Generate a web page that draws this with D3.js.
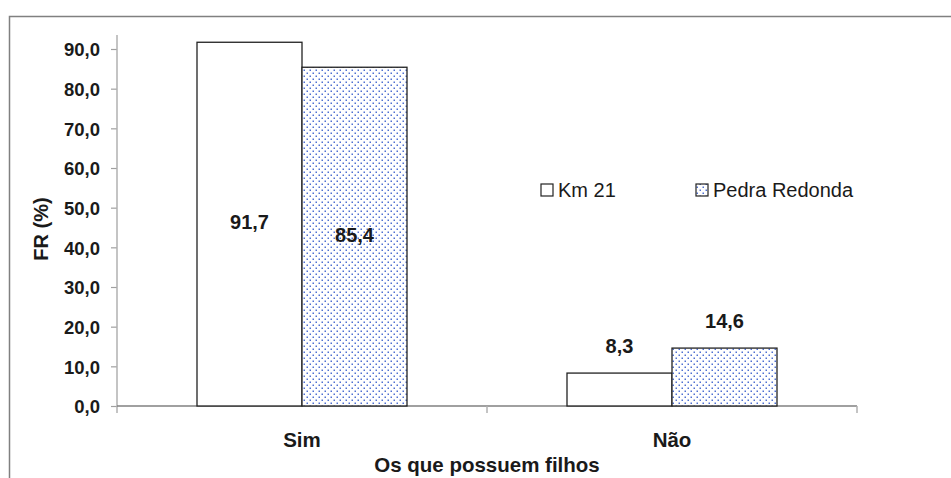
<!DOCTYPE html>
<html><head><meta charset="utf-8">
<script src="https://cdn.jsdelivr.net/npm/d3@7"></script>
<style>body{margin:0;background:#fff}svg{display:block;font-family:"Liberation Sans",Arial,sans-serif}</style>
</head><body>
<script>
const categories = ["Sim", "Não"];
const seriesNames = ["Km 21", "Pedra Redonda"];
const km21 = [91.7, 8.3];
const pedraRedonda = [85.4, 14.6];
const yTicks = [0, 10, 20, 30, 40, 50, 60, 70, 80, 90];
const yTitle = "FR (%)";
const xTitle = "Os que possuem filhos";

const W = 951, H = 478;
const FF = '"Liberation Sans", Arial, sans-serif';
const svg = d3.select("body").append("svg").attr("width", W).attr("height", H);
const defs = svg.append("defs");
const pat = defs.append("pattern").attr("id", "dots").attr("patternUnits", "userSpaceOnUse")
  .attr("width", 6).attr("height", 6);
pat.append("rect").attr("width", 6).attr("height", 6).attr("fill", "#fff");
pat.append("rect").attr("x", 0.5).attr("y", 0.5).attr("width", 1.5).attr("height", 1.5).attr("fill", "#4f70d2");
pat.append("rect").attr("x", 3.5).attr("y", 3.5).attr("width", 1.5).attr("height", 1.5).attr("fill", "#4f70d2");

// outer frame
svg.append("rect").attr("x", 9.5).attr("y", 16.5).attr("width", 1000).attr("height", 600)
  .attr("fill", "none").attr("stroke", "#808080").attr("stroke-width", 1.5);

const left = 117, right = 857, y0 = 406;
const y = d3.scaleLinear().domain([0, 90]).range([y0, 49]);
const x = d3.scaleBand().domain(categories).range([left, right]).paddingInner(0).paddingOuter(0);
const xs = d3.scaleBand().domain(seriesNames).range([0, 210]);
const groupOff = (x.bandwidth() - 210) / 2;

function txt(sel, size, bold) {
  return sel.style("font-family", FF).style("font-size", size + "px")
    .style("font-weight", bold ? "bold" : "normal").attr("fill", "#1a1a1a");
}

// y axis
const yAxis = svg.append("g").attr("transform", `translate(${left},0)`)
  .call(d3.axisLeft(y).tickValues(yTicks).tickSize(6).tickPadding(11).tickFormat(d => d.toFixed(1).replace(".", ",")));
yAxis.select(".domain").remove();
yAxis.selectAll(".tick line").attr("stroke", "#a0a0a0").attr("stroke-width", 1.2);
txt(yAxis.selectAll("text"), 18.5, true).attr("dy", "0.36em");
svg.append("line").attr("x1", left).attr("x2", left).attr("y1", 35).attr("y2", y0 + 7)
  .attr("stroke", "#b0b0b0").attr("stroke-width", 1.5);

// x axis
svg.append("line").attr("x1", left).attr("x2", right).attr("y1", y0).attr("y2", y0)
  .attr("stroke", "#808080").attr("stroke-width", 1.5);
[left + x.bandwidth(), right].forEach(v => {
  svg.append("line").attr("x1", v).attr("x2", v).attr("y1", y0).attr("y2", y0 + 7)
    .attr("stroke", "#b0b0b0").attr("stroke-width", 1.5);
});

// bars
const seriesData = [km21, pedraRedonda];
seriesData.forEach((vals, si) => {
  svg.append("g").selectAll("rect").data(categories).join("rect")
    .attr("x", c => x(c) + groupOff + xs(seriesNames[si]))
    .attr("y", (c, i) => y(vals[i]))
    .attr("width", xs.bandwidth())
    .attr("height", (c, i) => y0 - y(vals[i]))
    .attr("fill", si === 0 ? "#fff" : "url(#dots)")
    .attr("stroke", "#222").attr("stroke-width", 1.3);
});

// value labels
seriesData.forEach((vals, si) => {
  txt(svg.append("g").selectAll("text").data(categories).join("text")
    .attr("x", c => x(c) + groupOff + xs(seriesNames[si]) + xs.bandwidth() / 2)
    .attr("y", (c, i) => vals[i] > 50 ? (y(vals[i]) + y0) / 2 + 5 : y(vals[i]) - 20)
    .attr("text-anchor", "middle"), 20, true)
    .text((c, i) => vals[i].toFixed(1).replace(".", ","));
});

// category labels
txt(svg.append("g").selectAll("text").data(categories).join("text")
  .attr("x", c => x(c) + x.bandwidth() / 2).attr("y", 447)
  .attr("text-anchor", "middle"), 20.5, true)
  .text(d => d);

// titles
txt(svg.append("text").attr("x", left + (right - left) / 2).attr("y", 472)
  .attr("text-anchor", "middle"), 20.5, true).text(xTitle);
txt(svg.append("text").attr("transform", "translate(48,229) rotate(-90)")
  .attr("text-anchor", "middle"), 20, true).text(yTitle);

// legend
const legX = [541, 696];
seriesNames.forEach((n, i) => {
  svg.append("rect").attr("x", legX[i]).attr("y", 184).attr("width", 12).attr("height", 12)
    .attr("fill", i === 0 ? "#fff" : "url(#dots)").attr("stroke", "#222").attr("stroke-width", 1.2);
  txt(svg.append("text").attr("x", legX[i] + 17).attr("y", 197), 20, false).text(n);
});
</script>
</body></html>
